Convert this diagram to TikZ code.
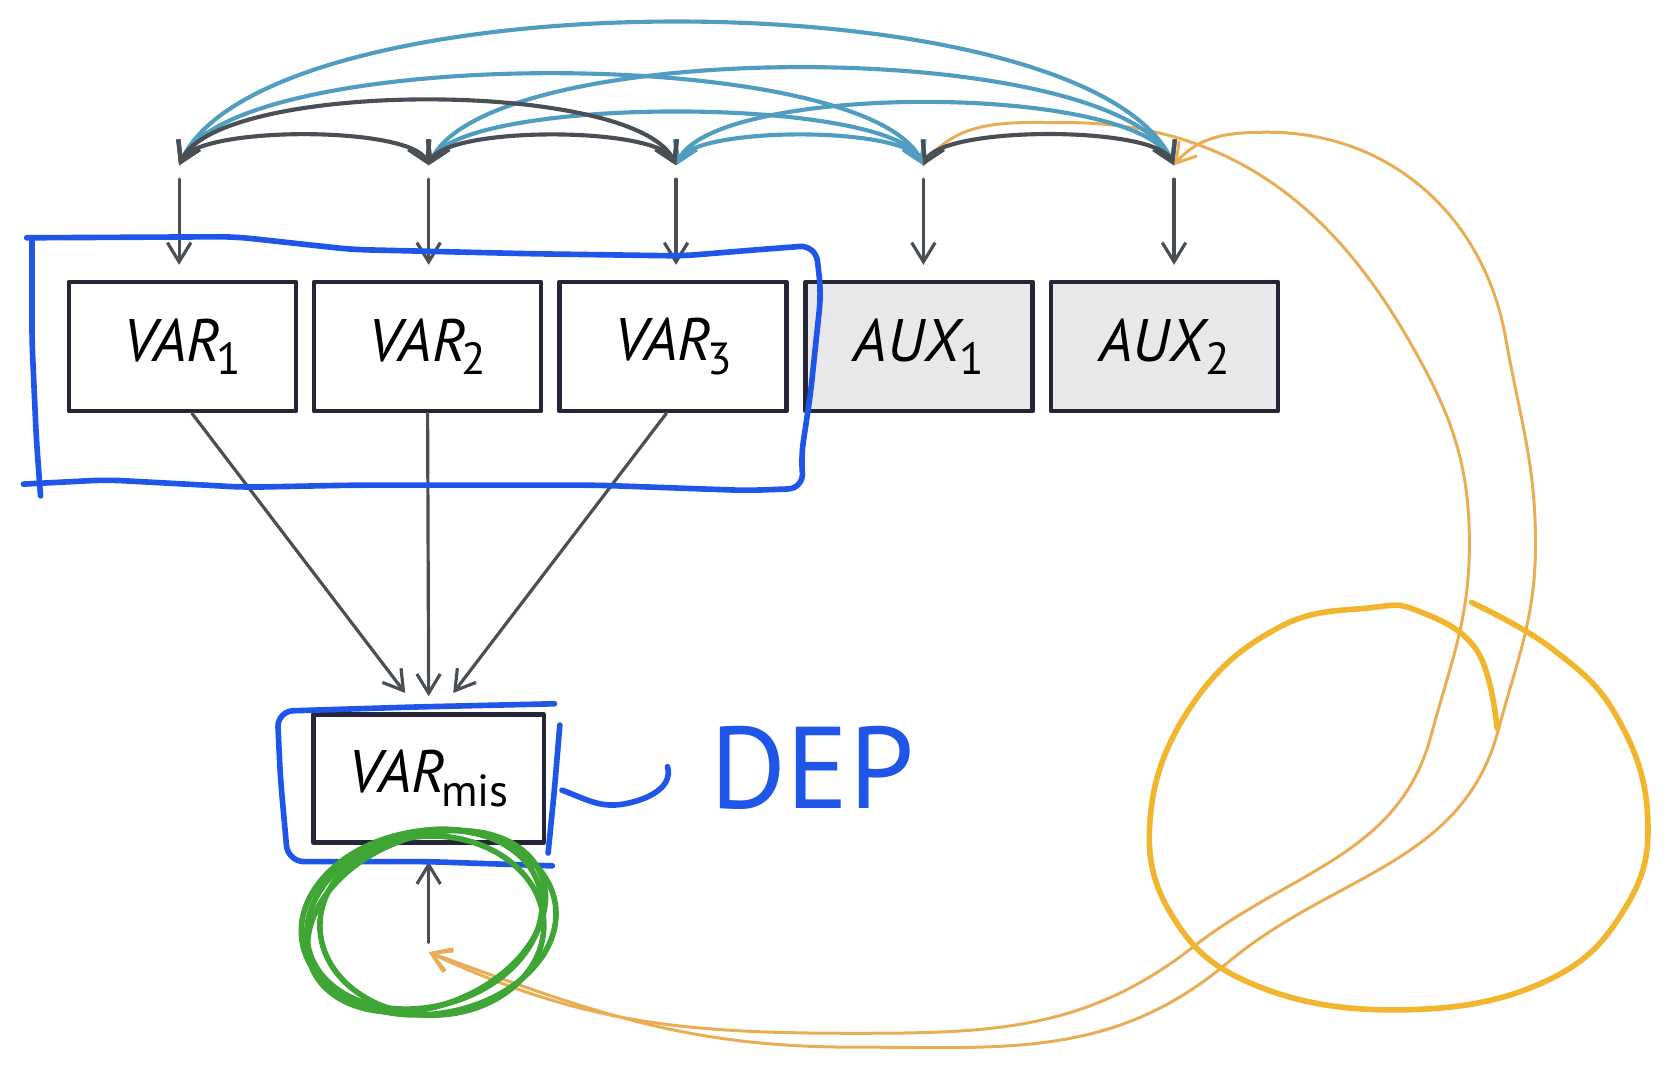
\documentclass[tikz,border=0pt]{standalone}
\usepackage{fontspec}
\setmainfont{PT Sans}
\usetikzlibrary{arrows.meta}
\definecolor{cbox}{HTML}{25253A}
\definecolor{cfill}{HTML}{E8E8EA}
\definecolor{cgray}{HTML}{4A4F55}
\definecolor{cteal}{HTML}{4F9DC0}
\definecolor{corange}{HTML}{E9AD55}
\definecolor{cgold}{HTML}{F2B52E}
\definecolor{cblue}{HTML}{1F56E8}
\definecolor{cgreen}{HTML}{3FA535}
\newcommand{\vlab}[2]{\textit{#1}\kern-1.2pt\raisebox{-0.45ex}{\fontsize{12}{12}\selectfont #2}}
\begin{document}
\begin{tikzpicture}[x=0.1mm,y=0.1mm,line join=round,line cap=round,>={Straight Barb[length=1.8mm,width=2.2mm]}]
	\tikzset{box/.style={draw=cbox,line width=1.2pt,fill=white,minimum width=21.3mm,minimum height=12.1mm,inner sep=0pt,font=\fontsize{16}{16}\selectfont},
		reg/.style={->,draw=cgray,line width=0.85pt},
		cov/.style={<->,line width=1.1pt},
		thinorange/.style={draw=corange,line width=0.8pt},
		pen/.style={line width=1.5pt}}
	\useasboundingbox (0,0) rectangle (1568,1020);
	% boxes
	\node[box] (var1) at (171,695) {\vlab{VAR}{1}};
	\node[box] (var2) at (401,695) {\vlab{VAR}{2}};
	\node[box] (var3) at (631,695) {\vlab{VAR}{3}};
	\node[box,fill=cfill] (aux1) at (862,695) {\vlab{AUX}{1}};
	\node[box,fill=cfill] (aux2) at (1092,695) {\vlab{AUX}{2}};
	\node[box,minimum width=21.6mm,minimum height=12mm] (varmis) at (402,290) {\vlab{VAR}{mis}};
	% error terms
	\foreach \i/\x in {1/168,2/402,3/634,4/866,5/1101}
	\coordinate (e\i) at (\x,865);
	\coordinate (e6) at (402,127);
	% auxiliary correlations with the residual
	\draw[thinorange,->] (e4) to[out=55,in=180] (1000,905) to[out=0,in=120] (1320,703)
		to[out=-60,in=90] (1378,510) to[out=-90,in=75] (1342,330) to[out=-105,in=38] (1119,132)
		to[out=-142,in=0] (800,51) to[out=180,in=-25] (e6);
	\draw[thinorange,<->] (e5) to[out=50,in=180] (1189,896) to[out=0,in=100] (1412,703)
		to[out=-80,in=90] (1440,510) to[out=-90,in=75] (1405,335) to[out=-105,in=40] (1151,117)
		to[out=-140,in=0] (800,38) to[out=180,in=-20] (e6);
	% covariances
	\foreach \a/\b/\l in {e3/e4/.45,e2/e4/.4,e3/e5/.47,e1/e4/.46,e2/e5/.49,e1/e5/.54}
	\draw[cov,draw=cteal] (\a) to[out=65,in=115,looseness=\l] (\b);
	\foreach \a/\b/\l in {e1/e2/.45,e2/e3/.45,e1/e3/.49,e4/e5/.45}
	\draw[cov,draw=cgray] (\a) to[out=65,in=115,looseness=\l] (\b);
	% paths
	\foreach \i/\n in {1/var1,2/var2,3/var3,4/aux1,5/aux2}
	\draw[reg,shorten <=1.3mm,shorten >=1.4mm] (e\i) -- (e\i |- \n.north);
	\draw[reg] ([xshift=0.9mm]var1.south) -- ([xshift=-2.2mm,yshift=1.8mm]varmis.north);
	\draw[reg] (var2.south) -- ([yshift=1.5mm]varmis.north);
	\draw[reg] ([xshift=-0.6mm]var3.south) -- ([xshift=2.3mm,yshift=1.8mm]varmis.north);
	\draw[reg,shorten <=0.9mm,shorten >=1.6mm] (e6) -- (varmis.south);
	% pen marks
	\draw[pen,draw=cblue,rounded corners=1.5mm] (25,797) -- (220,798) -- (330,786) -- (500,782) -- (640,780) -- (700,785) -- (765,790)
		-- (770,745) -- (760,650) -- (751,590) -- (754,562) -- (700,560) -- (560,565) -- (330,565) -- (230,563) -- (100,570) -- (22,566);
	\draw[pen,draw=cblue,rounded corners=1.5mm] (30,794) -- (30,700) -- (34,610) -- (38,555);
	\draw[pen,draw=cblue,rounded corners=1.5mm] (520,360) -- (390,357) -- (260,353) -- (263,290) -- (270,212) -- (400,212) -- (518,208);
	\draw[pen,draw=cblue,rounded corners=1.5mm] (525,340) -- (520,280) -- (514,220);
	\draw[pen,draw=cblue] (527,279) to[out=-20,in=190] (585,266) to[out=10,in=-75] (626,301);
	\node[text=cblue,font=\fontsize{31}{31}\selectfont] (dep) at (762,300) {DEP};
	\foreach \cx/\cy/\rx/\ry/\t in {402/155/12/8.6/8,398/158/11.2/8.2/15,405/152/10.5/8.4/0,400/156/11.6/7.9/22}
	\draw[pen,draw=cgreen] (\cx,\cy) ellipse [x radius=\rx mm,y radius=\ry mm,rotate=\t];
	\draw[pen,draw=cgold] plot[smooth,tension=.7] coordinates {(1404,337) (1385,410) (1330,447) (1285,450) (1200,432) (1120,362) (1079,257) (1100,160) (1180,95) (1317,73) (1450,100) (1525,170) (1545,257) (1515,350) (1455,412) (1380,455)};
\end{tikzpicture}
\end{document}
